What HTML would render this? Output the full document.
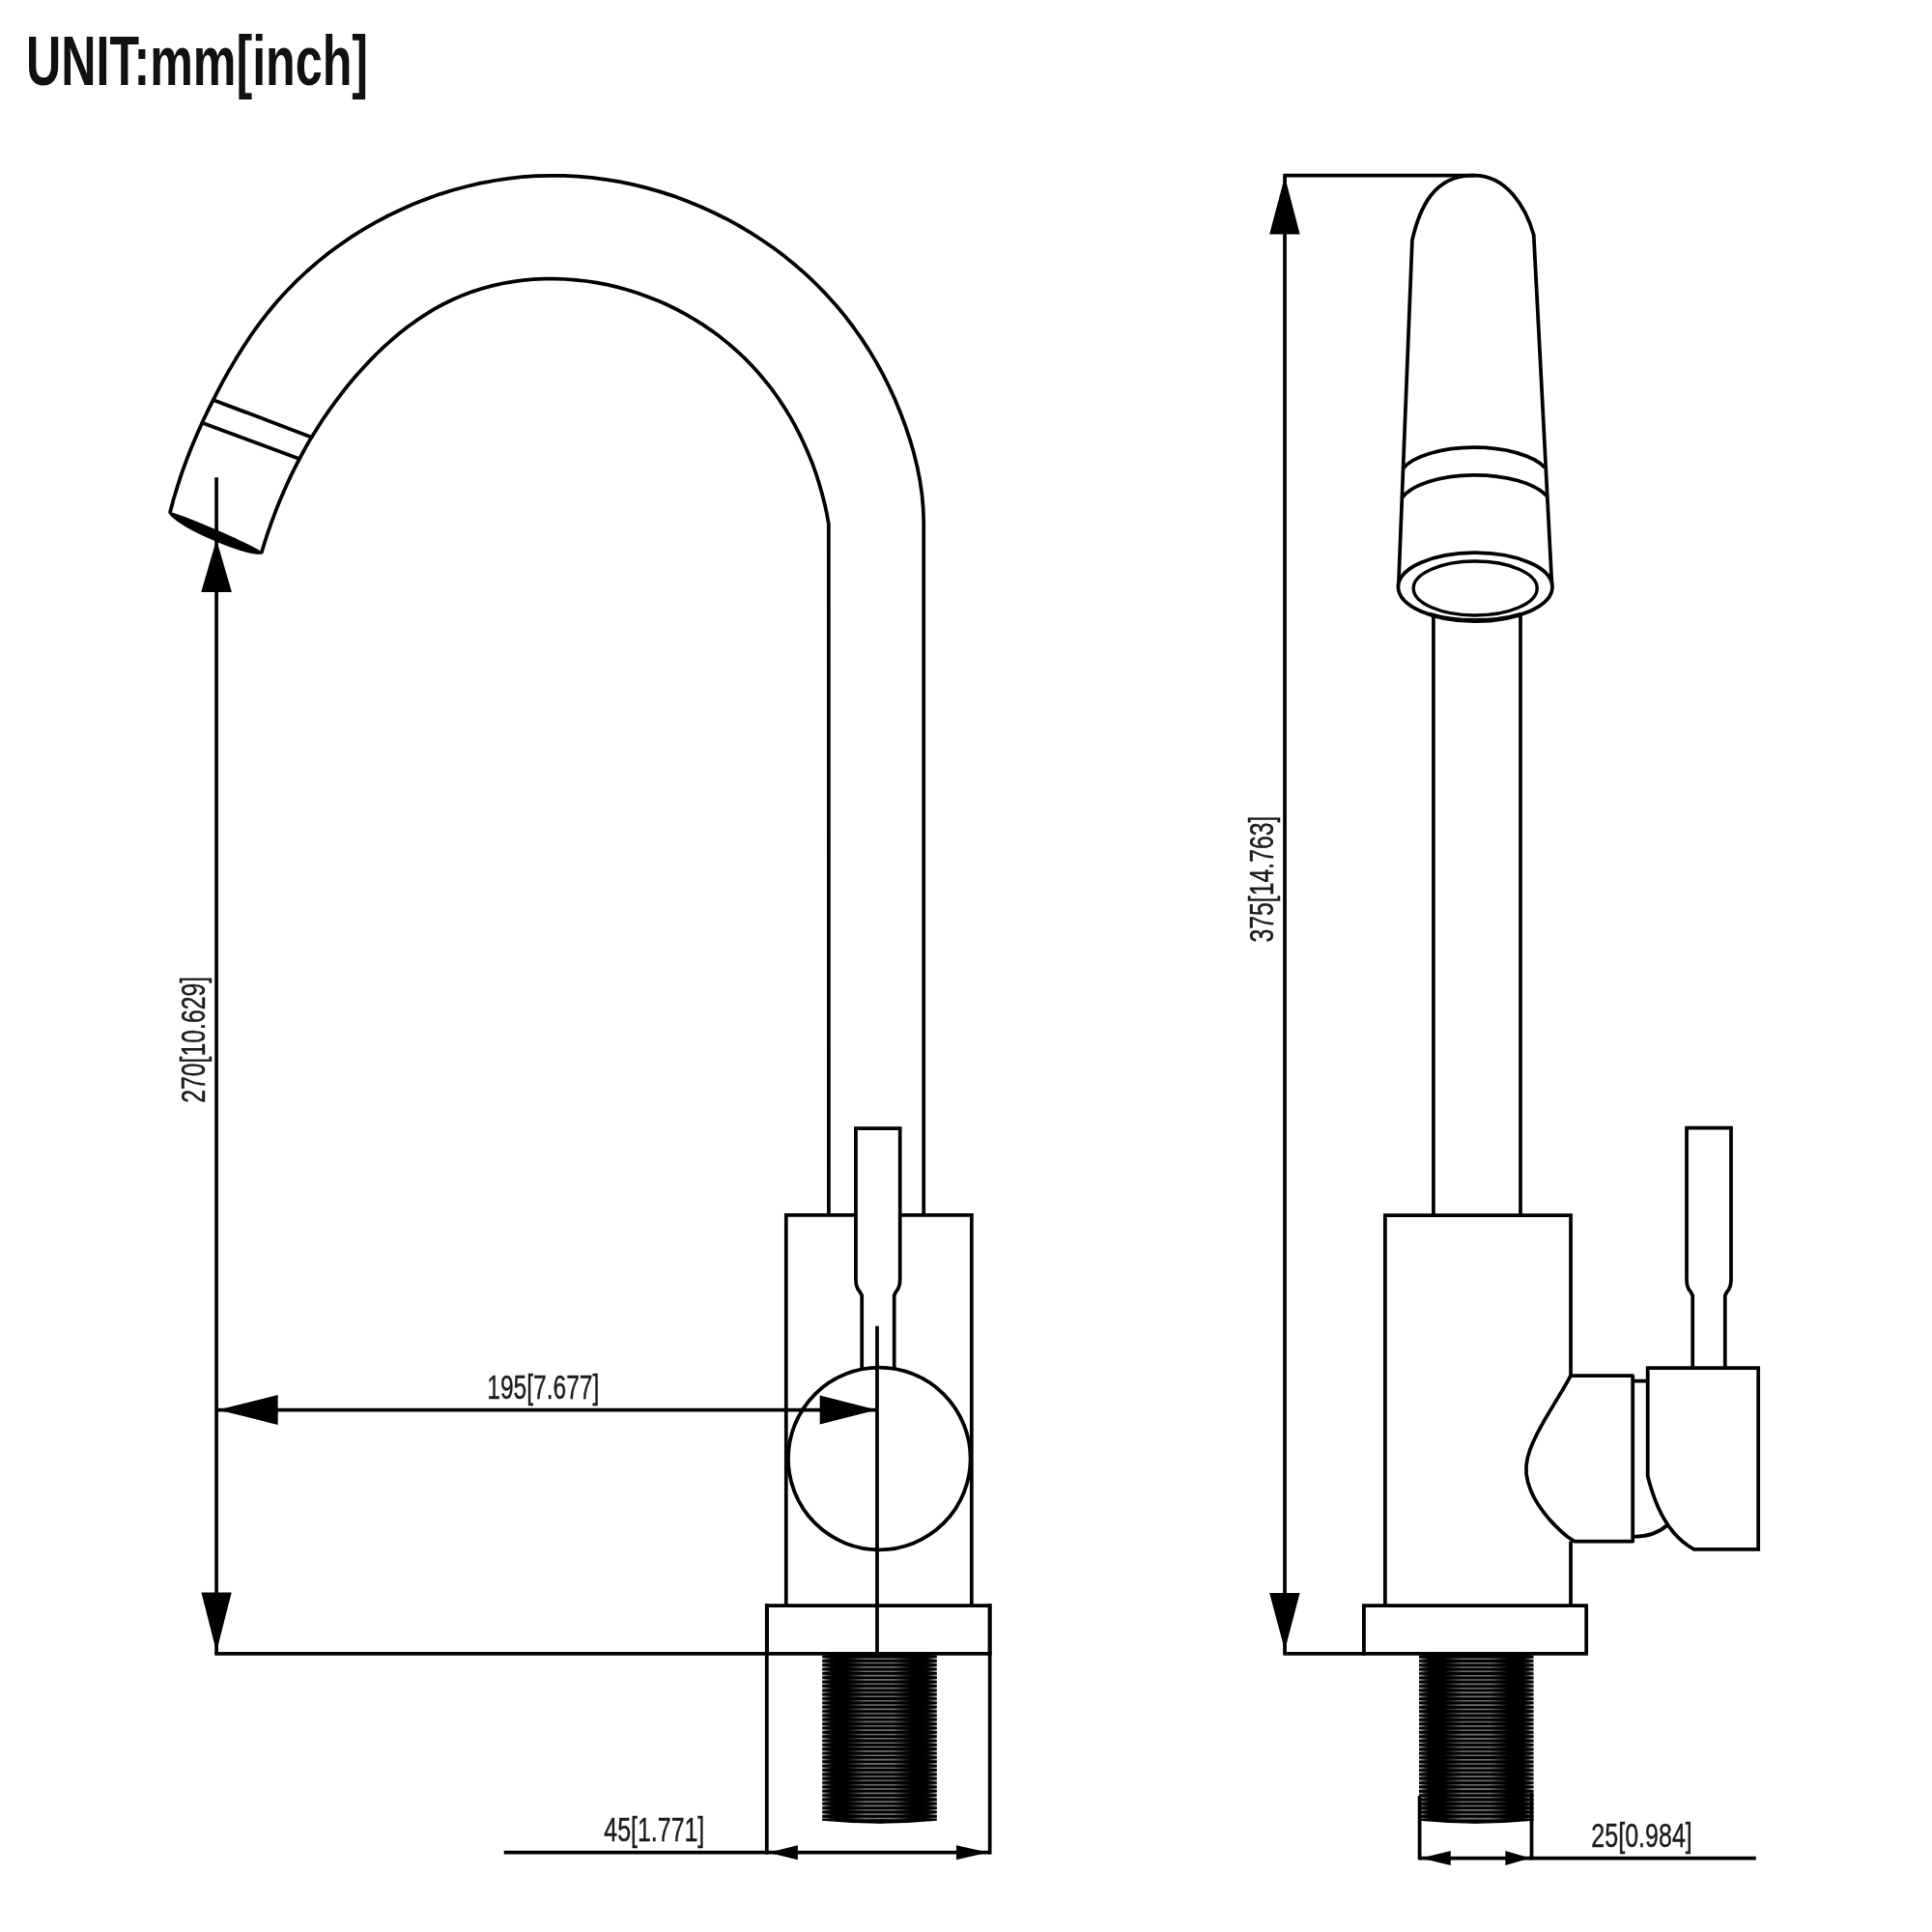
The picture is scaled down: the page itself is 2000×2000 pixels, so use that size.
<!DOCTYPE html>
<html><head><meta charset="utf-8"><title>Faucet dimensions</title>
<style>
html,body{margin:0;padding:0;background:#fff;}
body{width:2000px;height:2000px;overflow:hidden;}
svg{display:block;font-family:"Liberation Sans",sans-serif;will-change:transform;}
</style></head><body>
<svg width="2000" height="2000" viewBox="0 0 2000 2000">
<defs>
<linearGradient id="thrA" gradientUnits="userSpaceOnUse" x1="877" y1="0" x2="943" y2="0">
<stop offset="0" stop-color="#000"/><stop offset="0.28" stop-color="#6e6e6e"/><stop offset="0.72" stop-color="#6e6e6e"/><stop offset="1" stop-color="#000"/>
</linearGradient>
<linearGradient id="thrB" gradientUnits="userSpaceOnUse" x1="1495" y1="0" x2="1561" y2="0">
<stop offset="0" stop-color="#000"/><stop offset="0.28" stop-color="#6e6e6e"/><stop offset="0.72" stop-color="#6e6e6e"/><stop offset="1" stop-color="#000"/>
</linearGradient>
<linearGradient id="fadeL" x1="0" y1="0" x2="1" y2="0">
<stop offset="0" stop-color="#000" stop-opacity="0.25"/><stop offset="0.45" stop-color="#000" stop-opacity="0.7"/><stop offset="0.9" stop-color="#000" stop-opacity="1"/>
</linearGradient>
<linearGradient id="fadeR" x1="1" y1="0" x2="0" y2="0">
<stop offset="0" stop-color="#000" stop-opacity="0.25"/><stop offset="0.45" stop-color="#000" stop-opacity="0.7"/><stop offset="0.9" stop-color="#000" stop-opacity="1"/>
</linearGradient>
</defs>
<rect width="2000" height="2000" fill="#fff"/>
<path d="M175.9,531.1 L 179.6,517 183.8,503.1 188.3,489.3 193.3,475.7 198.6,462.2 204.3,448.8 210.2,435.5 216.5,422.4 223.1,409.4 229.9,396.4 237,383.7 244.4,371.1 252.1,358.7 260.2,346.5 268.7,334.7 277.6,323.2 286.9,312 296.7,301.3 306.9,290.9 317.5,281 328.5,271.4 339.8,262.3 351.5,253.7 363.5,245.4 375.9,237.7 388.5,230.4 401.4,223.5 414.5,217.2 427.8,211.3 441.4,205.9 455.1,201.1 469,196.8 483.1,193 497.2,189.7 511.5,187 525.9,184.8 540.3,183.2 554.8,182.2 569.3,181.8 583.8,181.9 598.3,182.6 612.7,183.9 627.1,185.8 641.5,188.2 655.7,191.1 669.8,194.6 683.8,198.6 697.7,203.1 711.4,208.2 724.9,213.7 738.1,219.7 751.2,226.2 764,233.2 776.6,240.6 788.8,248.5 800.8,256.8 812.5,265.6 823.8,274.8 834.7,284.4 845.3,294.5 855.4,304.9 865.2,315.7 874.5,326.9 883.3,338.5 891.7,350.4 899.7,362.6 907.2,375.1 914.2,387.9 920.7,401 926.8,414.3 932.3,427.7 937.4,441.4 942,455.2 946,469.1 949.5,483.2 952.3,497.4 954.4,511.7 955.7,526.2 956.2,540.8 L956.2,1258" fill="none" stroke="#000" stroke-width="3.75" stroke-linejoin="round"/>
<path d="M270.6,572.5 L 273.8,562 277.2,551.6 280.8,541.3 284.6,531.1 288.6,520.9 292.8,510.9 297.2,501 301.8,491.1 306.7,481.4 311.7,471.8 316.9,462.3 322.4,452.9 328.1,443.7 334,434.6 340.1,425.6 346.4,416.8 353,408.1 359.7,399.5 366.7,391.1 374,382.9 381.4,374.9 389.1,367 397,359.4 405.2,352.1 413.5,345 422.1,338.3 430.9,331.9 440,325.9 449.2,320.2 458.7,315 468.4,310.2 478.3,305.9 488.4,302.1 498.8,298.7 509.3,295.9 519.9,293.5 530.7,291.6 541.5,290.2 552.4,289.2 563.3,288.7 574.3,288.6 585.2,289 596,289.8 606.9,291 617.6,292.6 628.3,294.7 638.9,297.1 649.4,300 659.8,303.2 670,306.9 680.2,310.9 690.1,315.3 699.9,320 709.5,325.1 718.9,330.6 728.1,336.4 737.1,342.6 745.8,349.1 754.3,355.9 762.5,363 770.4,370.4 778.1,378.2 785.4,386.2 792.4,394.6 799.1,403.2 805.5,412 811.5,421.1 817.3,430.4 822.7,439.9 827.7,449.6 832.4,459.5 836.8,469.5 840.9,479.6 844.6,489.9 847.9,500.3 850.9,510.7 853.6,521.2 855.9,531.8 857.8,542.4 L857.9,1258" fill="none" stroke="#000" stroke-width="3.75" stroke-linejoin="round"/>
<path d="M175.9,531.1 A55,3.3 23.6 0 1 270.6,572.5 A55,10.2 23.6 0 1 175.9,531.1 Z" fill="#000" stroke="#000" stroke-width="2.5" stroke-linejoin="round"/>
<path d="M220.6,413.9 L321.5,452.3" fill="none" stroke="#000" stroke-width="3.75"/>
<path d="M208,437.2 L309.2,474.8" fill="none" stroke="#000" stroke-width="3.75"/>
<path d="M886,1257.8 H813.8 V1662 M931.7,1257.8 H1005.8 V1662" fill="none" stroke="#000" stroke-width="3.75" />
<path d="M892.2,1416 V1341 L890,1337 Q885.9,1333 885.9,1324 V1168 H931.7 V1324 Q931.7,1333 927.6,1337 L925.7,1341 V1416" fill="none" stroke="#000" stroke-width="3.75" stroke-linejoin="miter"/>
<circle cx="910.3" cy="1510" r="94.3" fill="none" stroke="#000" stroke-width="3.75"/>
<path d="M908,1372.8 L908,1712" fill="none" stroke="#000" stroke-width="3.75"/>
<path d="M794,1711.8 V1662 H1024.6 V1711.8" fill="none" stroke="#000" stroke-width="3.75" />
<path d="M793.8,1660.2 L793.8,1919.5" fill="none" stroke="#000" stroke-width="3.75"/>
<path d="M1024.7,1660.2 L1024.7,1919.5" fill="none" stroke="#000" stroke-width="3.75"/>
<path d="M222.2,1711.8 L1026.6,1711.8" fill="none" stroke="#000" stroke-width="3.75"/>
<path d="M521.7,1917.7 L1024.7,1917.7" fill="none" stroke="#000" stroke-width="3.75"/>
<path d="M795.4,1917.7 L825.8,1910.2 L825.8,1925.3 Z" fill="#000"/>
<path d="M1023,1917.7 L990,1910.2 L990,1925.3 Z" fill="#000"/>
<path d="M224.1,494.3 L224.1,1712" fill="none" stroke="#000" stroke-width="3.75"/>
<path d="M224.1,558.5 L208.2,613 L239.9,613 Z" fill="#000"/>
<path d="M224.1,1710 L208.4,1648.5 L239.7,1648.5 Z" fill="#000"/>
<path d="M224.1,1459.5 L908,1459.5" fill="none" stroke="#000" stroke-width="3.75"/>
<path d="M225.6,1459.5 L287.7,1444 L287.7,1475 Z" fill="#000"/>
<path d="M907.6,1459.5 L848.7,1444.5 L848.7,1474.5 Z" fill="#000"/>
<path d="M1328.3,181.6 L1527,181.6" fill="none" stroke="#000" stroke-width="3.75"/>
<path d="M1330,181.6 L1330,1711.9" fill="none" stroke="#000" stroke-width="3.75"/>
<path d="M1330,182.7 L1314.2,242.5 L1345.7,242.5 Z" fill="#000"/>
<path d="M1330,1708.5 L1314.2,1648.9 L1345.6,1648.9 Z" fill="#000"/>
<path d="M1328.3,1711.9 L1413,1711.9" fill="none" stroke="#000" stroke-width="3.75"/>
<path d="M1447.7,607 L1461.9,248.7 C1469.4,215.6 1484.1,181.6 1524.5,181.6 L1526.5,181.6 C1559.1,181.6 1579.6,213.9 1587.7,243.1 L1606.5,605" fill="none" stroke="#000" stroke-width="3.75" stroke-linejoin="round"/>
<path d="M1452.6,484.7 A78,32 0 0 1 1599.3,484" fill="none" stroke="#000" stroke-width="3.75" />
<path d="M1451.4,515.1 A79.5,33.7 0 0 1 1601.2,513.4" fill="none" stroke="#000" stroke-width="3.75" />
<ellipse cx="1527.2" cy="607.6" rx="79.8" ry="35.6" fill="#fff" stroke="#000" stroke-width="3.75"/>
<ellipse cx="1527.2" cy="609" rx="64" ry="28" fill="none" stroke="#000" stroke-width="3.4"/>
<path d="M1480,634.5 A79.8,33.4 0 0 0 1574.4,634.5" fill="none" stroke="#000" stroke-width="1.8" />
<path d="M1483.9,637.5 L1483.9,1258" fill="none" stroke="#000" stroke-width="3.75"/>
<path d="M1574,637.5 L1574,1258" fill="none" stroke="#000" stroke-width="3.75"/>
<path d="M1626,1424 V1258 H1433.9 V1662 M1626,1595.5 V1662" fill="none" stroke="#000" stroke-width="3.75" />
<path d="M1626,1424 L 1621.8,1431.6 1617.4,1439.2 1612.9,1446.6 1608.4,1454.1 1603.9,1461.6 1599.4,1469.2 1595.1,1476.9 1590.9,1484.7 1587.1,1492.8 1583.8,1501 1581.3,1509.3 1580,1517.6 1580.1,1526 1581.7,1534.3 1584.4,1542.4 1588.1,1550.4 1592.7,1558.1 1598,1565.5 1603.7,1572.6 1609.8,1579.1 1616,1585.2 1622.6,1590.7 1629.6,1595.5 L1690.2,1595.5 V1424 H1626" fill="none" stroke="#000" stroke-width="3.75" stroke-linejoin="round"/>
<path d="M1690.2,1429.6 L1706,1429.6" fill="none" stroke="#000" stroke-width="3.75"/>
<path d="M1690.2,1590.5 Q1712,1591.5 1727,1578" fill="none" stroke="#000" stroke-width="3.75" />
<path d="M1820.2,1603.8 V1416 H1705.7 V1527.7 L1705.7,1527.7 L 1707.4,1534.4 1709.4,1541.2 1711.6,1548 1714.2,1554.8 1717,1561.4 1720.2,1567.9 1723.7,1574.1 1727.6,1580.1 1731.9,1585.7 1736.6,1590.9 1741.8,1595.7 1747.4,1600 1753.5,1603.8 H1820.2 Z" fill="none" stroke="#000" stroke-width="3.75" stroke-linejoin="miter"/>
<path d="M1752.2,1416 V1341 L1750,1337 Q1746,1333 1746,1324 V1167.6 H1792 V1324 Q1792,1333 1788,1337 L1785.8,1341 V1416" fill="none" stroke="#000" stroke-width="3.75" />
<path d="M1411.9,1711.9 V1662 H1642.2 V1711.9 Z" fill="none" stroke="#000" stroke-width="3.75" />
<path d="M1469.6,1859 L1469.6,1925.3" fill="none" stroke="#000" stroke-width="3.75"/>
<path d="M1585.5,1856 L1585.5,1925.3" fill="none" stroke="#000" stroke-width="3.75"/>
<path d="M1469.6,1923.5 L1817.8,1923.5" fill="none" stroke="#000" stroke-width="3.75"/>
<path d="M1471,1923.5 L1501.7,1916 L1501.7,1931 Z" fill="#000"/>
<path d="M1584,1923.5 L1558.4,1916 L1558.4,1931 Z" fill="#000"/>
<path d="M851.2,1715 H969.8 M851.2,1719.3 H969.8 M851.2,1723.7 H969.8 M851.2,1728 H969.8 M851.2,1732.4 H969.8 M851.2,1736.7 H969.8 M851.2,1741.1 H969.8 M851.2,1745.4 H969.8 M851.2,1749.8 H969.8 M851.2,1754.1 H969.8 M851.2,1758.5 H969.8 M851.2,1762.8 H969.8 M851.2,1767.2 H969.8 M851.2,1771.5 H969.8 M851.2,1775.9 H969.8 M851.2,1780.2 H969.8 M851.2,1784.6 H969.8 M851.2,1788.9 H969.8 M851.2,1793.3 H969.8 M851.2,1797.6 H969.8 M851.2,1802 H969.8 M851.2,1806.3 H969.8 M851.2,1810.7 H969.8 M851.2,1815 H969.8 M851.2,1819.4 H969.8 M851.2,1823.7 H969.8 M851.2,1828.1 H969.8 M851.2,1832.4 H969.8 M851.2,1836.8 H969.8 M851.2,1841.1 H969.8 M851.2,1845.5 H969.8 M851.2,1849.8 H969.8 M851.2,1854.2 H969.8 M851.2,1858.5 H969.8 M851.2,1862.9 H969.8 M851.2,1867.2 H969.8 M851.2,1871.6 H969.8 M851.2,1875.9 H969.8 M851.2,1880.3 H969.8 " stroke="#000" stroke-width="2.7" fill="none"/>
<rect x="851.2" y="1711.8" width="11.5" height="172.7" fill="url(#fadeL)"/>
<rect x="958.3" y="1711.8" width="11.5" height="172.7" fill="url(#fadeR)"/>
<path d="M862.2,1711.8 H958.8 V1884.8 Q910.5,1889.6 862.2,1884.8 Z" fill="#000"/>
<path d="M851.2,1883.6 Q910.5,1889.4 969.8,1883.6" stroke="#000" stroke-width="2.4" fill="none"/>
<path d="M874,1717.2 H946 M874,1721.5 H946 M874,1725.9 H946 M874,1730.2 H946 M874,1734.6 H946 M874,1738.9 H946 M874,1743.3 H946 M874,1747.6 H946 M874,1752 H946 M874,1756.3 H946 M874,1760.7 H946 M874,1765 H946 M874,1769.4 H946 M874,1773.7 H946 M874,1778.1 H946 M874,1782.4 H946 M874,1786.8 H946 M874,1791.1 H946 M874,1795.5 H946 M874,1799.8 H946 M874,1804.2 H946 M874,1808.5 H946 M874,1812.9 H946 M874,1817.2 H946 M874,1821.6 H946 M874,1825.9 H946 M874,1830.3 H946 M874,1834.6 H946 M874,1839 H946 M874,1843.3 H946 M874,1847.7 H946 M874,1852 H946 M874,1856.4 H946 M874,1860.7 H946 M874,1865.1 H946 M874,1869.4 H946 M874,1873.8 H946 M874,1878.1 H946 M874,1882.5 H946 " stroke="url(#thrA)" stroke-width="1.6" fill="none"/>
<path d="M1469,1715.1 H1587.5 M1469,1719.5 H1587.5 M1469,1723.8 H1587.5 M1469,1728.1 H1587.5 M1469,1732.5 H1587.5 M1469,1736.8 H1587.5 M1469,1741.2 H1587.5 M1469,1745.5 H1587.5 M1469,1749.9 H1587.5 M1469,1754.2 H1587.5 M1469,1758.6 H1587.5 M1469,1762.9 H1587.5 M1469,1767.3 H1587.5 M1469,1771.6 H1587.5 M1469,1776 H1587.5 M1469,1780.3 H1587.5 M1469,1784.7 H1587.5 M1469,1789 H1587.5 M1469,1793.4 H1587.5 M1469,1797.7 H1587.5 M1469,1802.1 H1587.5 M1469,1806.4 H1587.5 M1469,1810.8 H1587.5 M1469,1815.1 H1587.5 M1469,1819.5 H1587.5 M1469,1823.8 H1587.5 M1469,1828.2 H1587.5 M1469,1832.5 H1587.5 M1469,1836.9 H1587.5 M1469,1841.2 H1587.5 M1469,1845.6 H1587.5 M1469,1849.9 H1587.5 M1469,1854.3 H1587.5 M1469,1858.6 H1587.5 M1469,1863 H1587.5 M1469,1867.3 H1587.5 M1469,1871.7 H1587.5 M1469,1876 H1587.5 M1469,1880.4 H1587.5 " stroke="#000" stroke-width="2.7" fill="none"/>
<rect x="1469" y="1711.9" width="11.5" height="172.6" fill="url(#fadeL)"/>
<rect x="1576" y="1711.9" width="11.5" height="172.6" fill="url(#fadeR)"/>
<path d="M1480,1711.9 H1576.5 V1884.8 Q1528.2,1889.6 1480,1884.8 Z" fill="#000"/>
<path d="M1469,1883.6 Q1528.2,1889.4 1587.5,1883.6" stroke="#000" stroke-width="2.4" fill="none"/>
<path d="M1492,1717.3 H1564 M1492,1721.7 H1564 M1492,1726 H1564 M1492,1730.3 H1564 M1492,1734.7 H1564 M1492,1739 H1564 M1492,1743.4 H1564 M1492,1747.7 H1564 M1492,1752.1 H1564 M1492,1756.4 H1564 M1492,1760.8 H1564 M1492,1765.1 H1564 M1492,1769.5 H1564 M1492,1773.8 H1564 M1492,1778.2 H1564 M1492,1782.5 H1564 M1492,1786.9 H1564 M1492,1791.2 H1564 M1492,1795.6 H1564 M1492,1799.9 H1564 M1492,1804.3 H1564 M1492,1808.6 H1564 M1492,1813 H1564 M1492,1817.3 H1564 M1492,1821.7 H1564 M1492,1826 H1564 M1492,1830.4 H1564 M1492,1834.7 H1564 M1492,1839.1 H1564 M1492,1843.4 H1564 M1492,1847.8 H1564 M1492,1852.1 H1564 M1492,1856.5 H1564 M1492,1860.8 H1564 M1492,1865.2 H1564 M1492,1869.5 H1564 M1492,1873.9 H1564 M1492,1878.2 H1564 M1492,1882.6 H1564 " stroke="url(#thrB)" stroke-width="1.6" fill="none"/>
<g>
<text x="27" y="88" font-size="72" font-weight="bold" fill="#111" stroke="#111" stroke-width="0" textLength="354" lengthAdjust="spacingAndGlyphs">UNIT:mm[inch]</text>
<text x="625.3" y="1905.6" font-size="35" font-weight="normal" fill="#1c1c1c" stroke="#1c1c1c" stroke-width="0.45" textLength="104" lengthAdjust="spacingAndGlyphs">45[1.771]</text>
<text x="504.3" y="1447.5" font-size="35" font-weight="normal" fill="#1c1c1c" stroke="#1c1c1c" stroke-width="0.45" textLength="116" lengthAdjust="spacingAndGlyphs">195[7.677]</text>
<text x="1647.3" y="1911.5" font-size="35" font-weight="normal" fill="#1c1c1c" stroke="#1c1c1c" stroke-width="0.45" textLength="104.5" lengthAdjust="spacingAndGlyphs">25[0.984]</text>
<text x="211.8" y="1141.8" font-size="35" font-weight="normal" fill="#1c1c1c" stroke="#1c1c1c" stroke-width="0.45" textLength="131" lengthAdjust="spacingAndGlyphs" transform="rotate(-90 211.8 1141.8)">270[10.629]</text>
<text x="1318" y="975.6" font-size="35" font-weight="normal" fill="#1c1c1c" stroke="#1c1c1c" stroke-width="0.45" textLength="131" lengthAdjust="spacingAndGlyphs" transform="rotate(-90 1318 975.6)">375[14.763]</text>
</g>
</svg>
</body></html>
